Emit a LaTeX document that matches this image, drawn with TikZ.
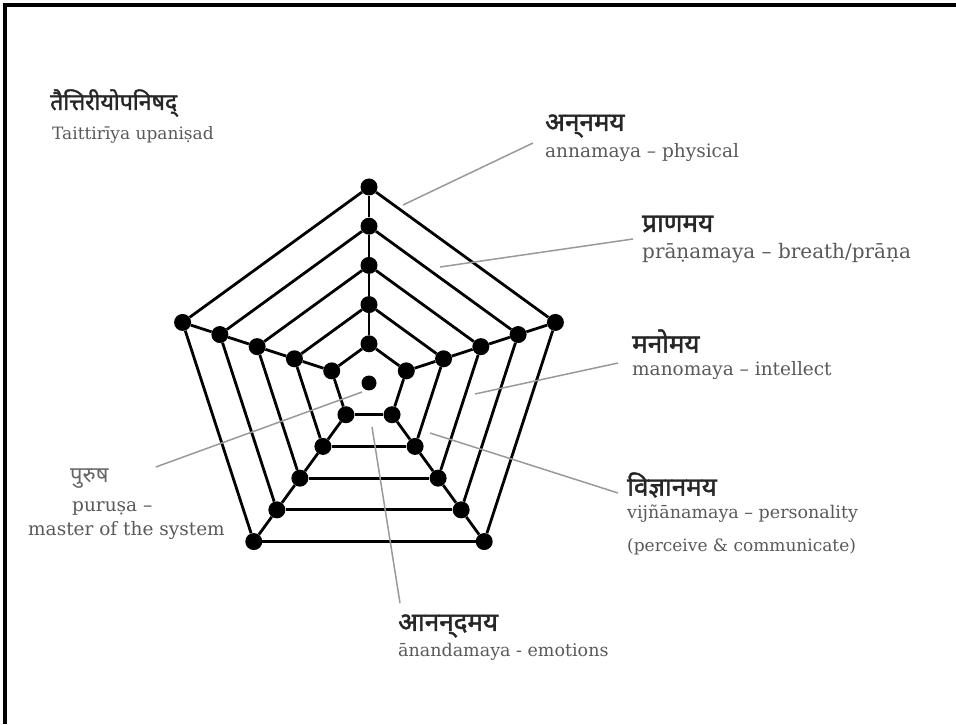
\documentclass[tikz,border=0pt]{standalone}
\usepackage{fontspec}
\setmainfont{DejaVu Serif}
\newfontfamily\devfont[Script=Devanagari,FakeBold=1.6]{Noto Sans}
\newfontfamily\devlight[Script=Devanagari]{Noto Sans}
\usetikzlibrary{calc}

\tikzset{
  dot/.style={circle,fill=black,inner sep=0pt,minimum size=17pt},
  web/.style={line width=2.8pt},
  leader/.style={draw=black!40,line width=1.5pt},
  sktname/.style={font=\devfont\fontsize{26}{30}\selectfont,text=black!85,inner sep=0pt,anchor=west},
  trname/.style={font=\fontsize{18.5}{22}\selectfont,text=black!65,inner sep=0pt,anchor=west},
}

\begin{document}
\begin{tikzpicture}[x=1pt,y=1pt]
\useasboundingbox (0,0) rectangle (956,724);
\draw[line width=3.5pt] (5,0) -- (5,719) -- (956,719);

% the five sheaths, ring 1 inside
\coordinate (c) at (369,341);
\foreach \k in {1,...,5}
  \foreach \j in {0,...,4}
    \node[dot] (p\k-\j) at ($(c)+(90+72*\j:39.2*\k)$) {};
\foreach \k in {1,...,5}
  \foreach \j in {0,...,4}{
    \pgfmathtruncatemacro\n{mod(\j+1,5)}
    \draw[web] (p\k-\j) -- (p\k-\n);
  }
\foreach \k in {1,...,4}
  \foreach \j in {0,...,4}{
    \pgfmathtruncatemacro\m{\k+1}
    \draw[web] (p\k-\j) -- (p\m-\j);
  }
\node[dot,minimum size=15pt] (centre) at (c) {};

% labels
\node[sktname,font=\devfont\fontsize{23}{27}\selectfont] (titleS) at (50,621) {तैत्तिरीयोपनिषद्};
\node[trname,font=\fontsize{17}{20}\selectfont] (titleT) at (52,589) {Taittirīya upaniṣad};
\node[sktname] (annaS) at (545,598) {अन्^^^^200cनमय};
\node[trname] (annaT) at (545,571) {annamaya – physical};
\node[sktname] (pranaS) at (642,500) {प्राणमय};
\node[trname,font=\fontsize{20}{24}\selectfont] (pranaT) at (642,471) {prāṇamaya – breath/prāṇa};
\node[sktname] (manoS) at (632,383) {मनोमय};
\node[trname] (manoT) at (632,353) {manomaya – intellect};
\node[sktname] (vijnaS) at (627,239) {विज्ञानमय};
\node[trname,font=\fontsize{17.5}{21}\selectfont] (vijnaT) at (627,210) {vijñānamaya – personality};
\node[trname,font=\fontsize{17}{20}\selectfont] (vijnaU) at (627,177) {(perceive \& communicate)};
\node[sktname,font=\devlight\fontsize{22}{26}\selectfont,text=black!60] (puruS) at (70,245) {पुरुष};
\node[trname] (puruT) at (72,216) {puruṣa –};
\node[trname] (puruU) at (28,193) {master of the system};
\node[sktname] (anandaS) at (398,98) {आनन्^^^^200cदमय};
\node[trname,font=\fontsize{17.5}{21}\selectfont] (anandaT) at (398,72) {ānandamaya - emotions};

% leaders
\coordinate (annaIn) at (403,519);
\coordinate (pranaIn) at (440,457);
\coordinate (manoIn) at (475,330);
\coordinate (vijnaIn) at (430,291);
\coordinate (anandaIn) at (372,297);
\coordinate (puruIn) at (362,332);
\draw[leader] (annaIn) -- ([xshift=-12pt,yshift=10pt]annaT.west);
\draw[leader] (pranaIn) -- ([xshift=-9pt,yshift=14pt]pranaT.west);
\draw[leader] (manoIn) -- ([xshift=-14pt,yshift=8pt]manoT.west);
\draw[leader] (vijnaIn) -- ([xshift=-9pt,yshift=-8pt]vijnaS.west);
\draw[leader] (anandaIn) -- ([xshift=2pt,yshift=23pt]anandaS.west);
\draw[leader] (puruIn) -- ([xshift=47pt,yshift=12pt]puruS.east);
\end{tikzpicture}
\end{document}
